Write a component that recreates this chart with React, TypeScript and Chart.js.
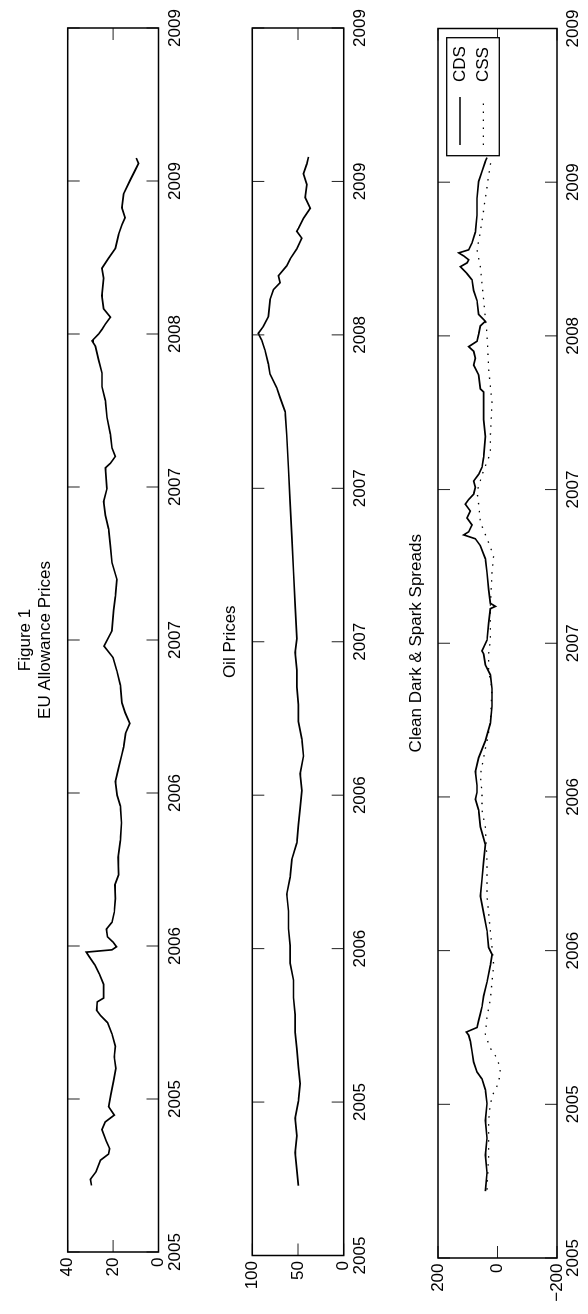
import React, { useEffect, useRef } from 'react';
import { Chart, registerables } from 'chart.js';

Chart.register(...registerables);

// ---------------- data ----------------
// x values are MATLAB-style serial day numbers; ticks every 200 days, labelled by year
const xTickValues = [732400, 732600, 732800, 733000, 733200, 733400, 733600, 733800, 734000];
const xTickLabels = ['2005', '2005', '2006', '2006', '2007', '2007', '2008', '2009', '2009'];

const euaTickValues = [0, 20, 40];
const oilTickValues = [0, 50, 100];
const spreadTickValues = [-200, 0, 200];

const euaDays = [732487, 732495, 732505, 732520, 732528, 732535, 732545, 732560, 732570, 732579, 732590, 732606, 732624, 732640, 732655, 732669, 732685, 732700, 732709, 732716, 732727, 732732, 732750, 732763, 732775, 732786, 732792, 732795, 732799, 732805, 732812, 732822, 732831, 732844, 732862, 732880, 732893, 732916, 732938, 732961, 732983, 732997, 733015, 733033, 733051, 733060, 733078, 733091, 733105, 733118, 733141, 733159, 733177, 733192, 733212, 733239, 733257, 733279, 733301, 733323, 733345, 733363, 733381, 733398, 733425, 733431, 733440, 733451, 733469, 733491, 733513, 733531, 733549, 733566, 733584, 733591, 733600, 733606, 733613, 733622, 733633, 733650, 733673, 733686, 733699, 733712, 733730, 733743, 733752, 733765, 733783, 733801, 733814, 733823, 733830];
const euaPrices = [29.5, 30.0, 27.5, 25.6, 22.0, 21.5, 23.0, 24.9, 23.5, 19.5, 22.0, 21.0, 19.8, 18.8, 19.5, 19.0, 20.5, 22.5, 25.5, 27.3, 27.0, 24.2, 24.2, 26.0, 28.0, 30.5, 31.8, 20.5, 18.5, 20.0, 22.5, 23.0, 20.5, 19.5, 19.0, 19.2, 17.6, 17.8, 16.8, 16.3, 16.8, 18.2, 19.0, 17.6, 16.1, 15.4, 14.5, 12.6, 14.7, 16.1, 16.8, 18.3, 20.0, 24.0, 20.5, 19.8, 19.0, 18.3, 20.5, 21.2, 22.0, 23.4, 24.2, 22.7, 23.4, 21.2, 19.0, 20.5, 21.2, 22.7, 23.4, 24.9, 24.9, 26.4, 27.8, 29.3, 26.4, 24.9, 23.4, 21.2, 24.2, 24.9, 24.2, 24.9, 22.0, 19.0, 17.6, 16.1, 14.7, 16.1, 15.4, 12.5, 10.3, 8.8, 9.8];

const oilDays = [732491, 732511, 732534, 732556, 732579, 732601, 732624, 732646, 732669, 732691, 732714, 732736, 732759, 732781, 732804, 732826, 732849, 732871, 732893, 732916, 732938, 732961, 732983, 733006, 733028, 733051, 733073, 733096, 733118, 733141, 733163, 733186, 733204, 733248, 733292, 733336, 733381, 733425, 733469, 733500, 733518, 733531, 733549, 733562, 733580, 733593, 733602, 733611, 733624, 733646, 733659, 733668, 733677, 733690, 733699, 733712, 733726, 733735, 733739, 733752, 733765, 733779, 733796, 733810, 733823, 733832];
const oilPrices = [49.5, 51.3, 53.1, 51.3, 53.1, 49.5, 47.6, 49.5, 51.3, 53.1, 53.1, 54.9, 54.9, 58.6, 58.6, 60.4, 60.4, 62.3, 58.6, 56.8, 51.3, 49.5, 47.6, 45.8, 47.6, 44.0, 45.8, 49.5, 49.5, 51.3, 51.3, 53.1, 51.3, 53.1, 54.9, 56.8, 58.6, 60.4, 62.3, 64.1, 69.6, 73.3, 80.6, 82.4, 86.1, 89.7, 93.4, 87.9, 82.4, 80.6, 76.9, 69.6, 71.4, 62.3, 58.6, 51.3, 45.8, 51.3, 49.5, 44.0, 36.6, 42.1, 40.3, 44.0, 40.3, 38.5];

const cdsDays = [732487, 732511, 732534, 732556, 732579, 732601, 732619, 732633, 732642, 732655, 732669, 732682, 732690, 732694, 732700, 732709, 732718, 732727, 732741, 732759, 732781, 732795, 732804, 732826, 732849, 732871, 732893, 732916, 732938, 732961, 732983, 732997, 733006, 733015, 733033, 733051, 733073, 733096, 733118, 733141, 733159, 733172, 733186, 733190, 733204, 733226, 733245, 733248, 733252, 733270, 733292, 733310, 733327, 733336, 733341, 733345, 733354, 733363, 733372, 733381, 733387, 733394, 733403, 733411, 733420, 733429, 733442, 733469, 733491, 733513, 733527, 733531, 733549, 733562, 733571, 733580, 733586, 733593, 733602, 733613, 733619, 733628, 733646, 733659, 733673, 733681, 733690, 733695, 733699, 733704, 733708, 733712, 733721, 733735, 733757, 733779, 733801, 733814, 733827, 733832];
const cdsValues = [40.9, 35.3, 40.9, 35.3, 40.9, 35.3, 40.9, 52.1, 68.9, 80.1, 85.7, 91.3, 96.9, 105.0, 68.9, 63.3, 57.7, 52.1, 46.5, 35.3, 24.1, 18.5, 29.7, 35.3, 46.5, 57.7, 52.1, 46.5, 40.9, 57.7, 63.3, 74.5, 68.9, 68.9, 74.5, 63.3, 40.9, 24.1, 18.5, 18.5, 24.1, 40.9, 46.5, 52.1, 35.3, 29.7, 24.1, 7.3, 24.1, 29.7, 35.3, 40.9, 57.7, 74.5, 113.7, 96.9, 85.7, 102.5, 91.3, 108.1, 96.9, 80.1, 74.5, 80.1, 63.3, 52.1, 46.5, 40.9, 46.5, 46.5, 46.5, 57.7, 63.3, 80.1, 74.5, 80.1, 96.9, 68.9, 63.3, 57.7, 40.9, 63.3, 68.9, 80.1, 85.7, 102.5, 124.9, 102.5, 96.9, 113.7, 130.5, 96.9, 85.7, 74.5, 68.9, 68.9, 63.3, 52.1, 40.9, 35.3];

const cssDays = [732489, 732534, 732579, 732601, 732615, 732628, 732646, 732660, 732673, 732691, 732714, 732736, 732759, 732781, 732804, 732826, 732871, 732916, 732961, 732983, 733006, 733028, 733051, 733073, 733096, 733141, 733164, 733186, 733204, 733248, 733292, 733314, 733336, 733358, 733381, 733398, 733425, 733447, 733469, 733513, 733557, 733602, 733646, 733690, 733712, 733735, 733779, 733823, 733832];
const cssValues = [35.3, 29.7, 29.7, 24.1, 12.9, -3.9, -9.5, 1.7, 24.1, 40.9, 35.3, 24.1, 18.5, 12.9, 18.5, 24.1, 35.3, 35.3, 40.9, 52.1, 52.1, 57.7, 46.5, 35.3, 24.1, 18.5, 29.7, 29.7, 24.1, 24.1, 18.5, 12.9, 35.3, 57.7, 63.3, 68.9, 46.5, 24.1, 24.1, 18.5, 29.7, 35.3, 46.5, 57.7, 68.9, 57.7, 40.9, 24.1, 18.5];

// ---------------- layout / style ----------------
const FIG_W = 1314; // unrotated figure width  (page height)
const FIG_H = 588;  // unrotated figure height (page width)
const FONT = '"Liberation Sans", Arial, Helvetica, sans-serif';
const FS = 17;
const TITLE_LINE = 20;   // distance between title lines
const TITLE_OFFSET = 22; // from last title line centre to the axes box
const TICK_LEN = 12;
const Y_AXIS_W = 50;
const X_AXIS_H = 30;

const PANELS = [
  {
    title: ['Figure 1', 'EU Allowance Prices'],
    yMin: 0, yMax: 40, yTicks: euaTickValues,
    series: [{ label: 'EUA', days: euaDays, values: euaPrices, width: 1.7, dash: [] as number[] }],
    area: { left: 62, right: 1286, top: 67.7, bottom: 158.5 },
    legend: false,
  },
  {
    title: ['Oil Prices'],
    yMin: 0, yMax: 100, yTicks: oilTickValues,
    series: [{ label: 'Oil', days: oilDays, values: oilPrices, width: 1.7, dash: [] as number[] }],
    area: { left: 58.5, right: 1286, top: 252.3, bottom: 343.7 },
    legend: false,
  },
  {
    title: ['Clean Dark & Spark Spreads'],
    yMin: -200, yMax: 200, yTicks: spreadTickValues,
    series: [
      { label: 'CDS', days: cdsDays, values: cdsValues, width: 1.7, dash: [] as number[] },
      { label: 'CSS', days: cssDays, values: cssValues, width: 1.3, dash: [1.5, 6.5] },
    ],
    area: { left: 56, right: 1285.5, top: 438, bottom: 557 },
    legend: true,
  },
];

function toPoints(days: number[], vals: number[]) {
  return days.map((d, i) => ({ x: d, y: vals[i] }));
}

const axesPlugin = {
  id: 'matlabAxes',
  afterDatasetsDraw(chart: any) {
    const { ctx, chartArea: a, scales } = chart;
    ctx.save();
    ctx.strokeStyle = '#222';
    ctx.lineWidth = 1;
    const seg = (x1: number, y1: number, x2: number, y2: number) => {
      ctx.beginPath();
      ctx.moveTo(x1, y1);
      ctx.lineTo(x2, y2);
      ctx.stroke();
    };
    scales.x.ticks.forEach((t: any) => {
      const px = scales.x.getPixelForValue(t.value);
      seg(px, a.bottom, px, a.bottom - TICK_LEN);
      seg(px, a.top, px, a.top + TICK_LEN);
    });
    scales.y.ticks.forEach((t: any) => {
      const py = scales.y.getPixelForValue(t.value);
      seg(a.left, py, a.left + TICK_LEN, py);
      seg(a.right, py, a.right - TICK_LEN, py);
    });
    ctx.strokeStyle = '#000';
    ctx.lineWidth = 1.5;
    ctx.strokeRect(a.left, a.top, a.right - a.left, a.bottom - a.top);
    ctx.restore();
  },
};

const titlePlugin = {
  id: 'axesTitle',
  afterDraw(chart: any, _args: any, o: any) {
    if (!o || !o.lines) return;
    const { ctx, chartArea: a } = chart;
    const cx = (a.left + a.right) / 2;
    const n = o.lines.length;
    ctx.save();
    ctx.fillStyle = '#000';
    ctx.font = `${FS}px ${FONT}`;
    ctx.textAlign = 'center';
    ctx.textBaseline = 'middle';
    o.lines.forEach((line: string, i: number) => {
      const cy = a.top - TITLE_OFFSET - (n - 1 - i) * TITLE_LINE;
      ctx.fillText(line, cx, cy);
    });
    ctx.restore();
  },
};

const legendPlugin = {
  id: 'boxLegend',
  afterDraw(chart: any, _args: any, o: any) {
    if (!o || !o.show) return;
    const { ctx, chartArea: a } = chart;
    const x0 = a.right - o.insetRight - o.width;
    const y0 = a.top + o.insetTop;
    ctx.save();
    ctx.fillStyle = '#fff';
    ctx.fillRect(x0, y0, o.width, o.height);
    ctx.strokeStyle = '#000';
    ctx.lineWidth = 1.3;
    ctx.strokeRect(x0, y0, o.width, o.height);
    chart.data.datasets.forEach((ds: any, i: number) => {
      const y = y0 + o.rowStart + i * o.rowGap;
      ctx.beginPath();
      ctx.setLineDash(ds.borderDash || []);
      ctx.lineWidth = ds.borderWidth;
      ctx.strokeStyle = ds.borderColor;
      ctx.moveTo(x0 + o.lineStart, y);
      ctx.lineTo(x0 + o.lineEnd, y);
      ctx.stroke();
      ctx.setLineDash([]);
      ctx.fillStyle = '#000';
      ctx.font = `${FS}px ${FONT}`;
      ctx.textAlign = 'left';
      ctx.textBaseline = 'middle';
      ctx.fillText(ds.label, x0 + o.textStart, y);
    });
    ctx.restore();
  },
};

function makeConfig(p: any): any {
  const a = p.area;
  return {
    type: 'line',
    data: {
      datasets: p.series.map((s: any) => ({
        label: s.label,
        data: toPoints(s.days, s.values),
        borderColor: '#000',
        borderWidth: s.width,
        borderDash: s.dash,
        pointRadius: 0,
        tension: 0,
        fill: false,
      })),
    },
    options: {
      animation: false,
      responsive: false,
      maintainAspectRatio: false,
      events: [],
      layout: {
        padding: {
          left: a.left - Y_AXIS_W,
          right: FIG_W - a.right,
          top: a.top,
          bottom: FIG_H - a.bottom - X_AXIS_H,
        },
      },
      plugins: {
        legend: { display: false },
        tooltip: { enabled: false },
        title: { display: false },
        axesTitle: { lines: p.title },
        boxLegend: {
          show: p.legend,
          width: 118, height: 52.6, insetRight: 9.2, insetTop: 8.7,
          lineStart: 10.7, lineEnd: 58.7, textStart: 73.7, rowStart: 13.3, rowGap: 23.3,
        },
      },
      scales: {
        x: {
          type: 'linear',
          position: 'bottom',
          min: xTickValues[0],
          max: xTickValues[xTickValues.length - 1],
          afterBuildTicks: (scale: any) => {
            scale.ticks = xTickValues.map((v) => ({ value: v }));
          },
          afterFit: (scale: any) => { scale.height = X_AXIS_H; },
          grid: { display: false, drawTicks: false },
          border: { display: false },
          ticks: {
            autoSkip: false, maxRotation: 0, minRotation: 0, padding: 6.3, color: '#000',
            font: { family: FONT, size: FS, lineHeight: 1.2 },
            callback: (_v: any, i: number) => xTickLabels[i],
          },
        },
        y: {
          type: 'linear',
          position: 'left',
          min: p.yMin,
          max: p.yMax,
          afterBuildTicks: (scale: any) => {
            scale.ticks = p.yTicks.map((v: number) => ({ value: v }));
          },
          afterFit: (scale: any) => { scale.width = Y_AXIS_W; },
          grid: { display: false, drawTicks: false },
          border: { display: false },
          ticks: {
            padding: 5.5, color: '#000',
            font: { family: FONT, size: FS },
            callback: (v: number) => (v < 0 ? '\u2212' + Math.abs(v) : String(v)),
          },
        },
      },
    },
    plugins: [axesPlugin, titlePlugin, legendPlugin],
  };
}

export default function App() {
  const r0 = useRef<HTMLCanvasElement>(null);
  const r1 = useRef<HTMLCanvasElement>(null);
  const r2 = useRef<HTMLCanvasElement>(null);
  const refs = [r0, r1, r2];

  useEffect(() => {
    document.documentElement.style.overflow = 'hidden';
    const charts = PANELS.map((p, i) => new Chart(refs[i].current as HTMLCanvasElement, makeConfig(p)));
    return () => charts.forEach((c) => c.destroy());
  }, []);

  return (
    <div
      style={{
        position: 'absolute',
        left: 0,
        top: 0,
        width: FIG_W,
        height: FIG_H,
        background: '#fff',
        transformOrigin: '0 0',
        transform: `translate(0px, ${FIG_W}px) rotate(-90deg)`,
      }}
    >
      {PANELS.map((_, i) => (
        <canvas
          key={i}
          ref={refs[i]}
          width={FIG_W}
          height={FIG_H}
          style={{ position: 'absolute', left: 0, top: 0, width: FIG_W, height: FIG_H }}
        />
      ))}
    </div>
  );
}
